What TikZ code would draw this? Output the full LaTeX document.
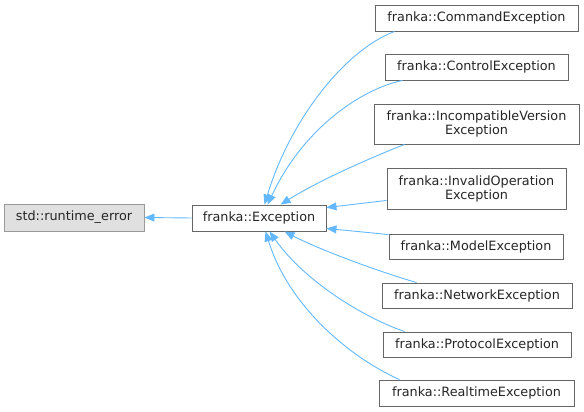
\documentclass[tikz,border=0pt]{standalone}
\usepackage{fontspec}
\setmainfont{DejaVu Sans}
\usetikzlibrary{arrows.meta}
\definecolor{edgeblue}{HTML}{63B8FF}
\definecolor{bordergray}{HTML}{666666}
\definecolor{extgray}{HTML}{999999}
\definecolor{extfill}{HTML}{E0E0E0}
\begin{document}
\begin{tikzpicture}[x=1pt,y=-1pt,
  cls/.style={draw=bordergray, fill=white, line width=0.9pt, inner sep=0pt,
    align=center, font=\fontsize{12.8}{14}\selectfont, text=black!85},
  ext/.style={cls, draw=extgray, fill=extfill},
  inh/.style={draw=edgeblue, line width=0.9pt, -{Triangle[length=10pt,width=8pt]}}]
\useasboundingbox (0,0) rectangle (584,412);
\node[ext, minimum width=140pt, minimum height=27pt] (rt) at (74,217.5) {std::runtime\_error};
\node[cls, minimum width=134pt, minimum height=26pt] (exc) at (259,218) {franka::Exception};
\node[cls, minimum width=203pt, minimum height=26pt] (cmd) at (476.5,18) {franka::CommandException};
\node[cls, minimum width=183pt, minimum height=26pt] (ctl) at (476.5,67) {franka::ControlException};
\node[cls, minimum width=205pt, minimum height=40pt] (inc) at (476.5,124) {franka::IncompatibleVersion\\Exception};
\node[cls, minimum width=179pt, minimum height=41pt] (inv) at (476.5,188.5) {franka::InvalidOperation\\Exception};
\node[cls, minimum width=174pt, minimum height=25pt] (mod) at (476,246.5) {franka::ModelException};
\node[cls, minimum width=190pt, minimum height=25pt] (net) at (477,295.5) {franka::NetworkException};
\node[cls, minimum width=188pt, minimum height=25pt] (pro) at (477,344.5) {franka::ProtocolException};
\node[cls, minimum width=195pt, minimum height=26pt] (rtm) at (476.5,393) {franka::RealtimeException};

\draw[inh] (exc.west) -- (rt.east);
\draw[inh] ([xshift=20pt]cmd.south west) .. controls (345,50) and (290,120) .. ([xshift=73pt]exc.north west);
\draw[inh] ([xshift=18pt]ctl.south west) .. controls (365,88) and (305,125) .. ([xshift=76pt]exc.north west);
\draw[inh] ([xshift=31pt]inc.south west) .. controls (370,158) and (320,180) .. ([xshift=89pt]exc.north west);
\draw[inh] ([yshift=9pt]inv.south west) -- ([yshift=-3pt]exc.north east);
\draw[inh] ([yshift=-1pt]mod.north west) -- ([yshift=3pt]exc.south east);
\draw[inh] ([xshift=35pt]net.north west) .. controls (380,272) and (320,250) .. ([xshift=93pt]exc.south west);
\draw[inh] ([xshift=22pt]pro.north west) .. controls (365,318) and (305,282) .. ([xshift=78pt]exc.south west);
\draw[inh] ([xshift=21pt]rtm.north west) .. controls (355,360) and (290,310) .. ([xshift=74pt]exc.south west);
\end{tikzpicture}
\end{document}
